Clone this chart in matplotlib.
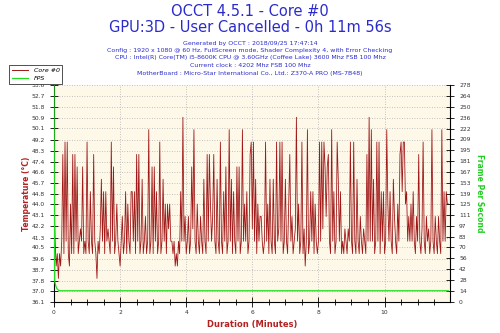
import matplotlib
matplotlib.use("Agg")
import matplotlib.pyplot as plt
from matplotlib.ticker import MultipleLocator, FixedLocator
from matplotlib.lines import Line2D
import numpy as np

# ---- data ----
sample_seconds = 2
core0_temp = [
    45, 41, 39, 40, 38, 40, 39, 41, 48, 40,
    49, 41, 49, 40, 39, 44, 40, 48, 40, 48,
    41, 47, 40, 41, 42, 41, 47, 40, 41, 40,
    49, 41, 40, 45, 41, 40, 48, 41, 40, 38,
    41, 40, 42, 46, 41, 45, 40, 45, 41, 42,
    41, 40, 49, 41, 47, 40, 41, 44, 41, 40,
    39, 41, 43, 40, 41, 45, 40, 44, 41, 40,
    45, 45, 41, 45, 40, 48, 41, 48, 40, 41,
    46, 40, 41, 43, 40, 41, 50, 40, 41, 47,
    40, 47, 41, 45, 40, 41, 49, 40, 41, 46,
    41, 44, 40, 44, 42, 44, 41, 41, 40, 41,
    39, 40, 39, 41, 40, 45, 41, 51, 41, 43,
    40, 41, 43, 40, 41, 47, 42, 50, 41, 40,
    44, 41, 40, 43, 41, 40, 46, 41, 40, 48,
    41, 48, 44, 41, 43, 48, 41, 40, 46, 41,
    40, 49, 41, 40, 45, 41, 47, 40, 41, 50,
    41, 46, 40, 45, 41, 40, 47, 41, 47, 40,
    41, 50, 41, 44, 41, 45, 40, 41, 48, 49,
    42, 49, 41, 46, 40, 44, 41, 43, 43, 41,
    40, 41, 49, 41, 44, 40, 46, 41, 40, 46,
    41, 40, 49, 41, 42, 49, 41, 49, 40, 41,
    46, 41, 40, 44, 48, 41, 43, 40, 41, 42,
    51, 41, 44, 40, 41, 49, 40, 42, 39, 41,
    50, 40, 41, 45, 41, 45, 40, 44, 41, 40,
    41, 49, 41, 49, 42, 49, 47, 43, 47, 48,
    41, 40, 50, 41, 45, 40, 41, 49, 46, 41,
    45, 40, 41, 40, 42, 41, 40, 42, 41, 49,
    41, 40, 49, 41, 40, 46, 41, 40, 43, 41,
    40, 42, 41, 40, 48, 41, 51, 41, 50, 41,
    46, 40, 41, 49, 41, 49, 40, 45, 41, 45,
    40, 41, 50, 44, 41, 45, 41, 40, 46, 43,
    41, 40, 44, 41, 48, 49, 45, 49, 49, 44,
    45, 41, 43, 41, 44, 41, 45, 41, 40, 43,
    41, 48, 41, 40, 42, 49, 41, 40, 43, 41,
    42, 40, 41, 50, 41, 40, 43, 41, 40, 43,
    41, 40, 50, 41, 45, 41, 45, 44, 44,
]
fps_minutes = [0.0, 0.02, 0.05, 0.09, 0.14, 0.2, 11.93]
fps_values = [278, 27, 21, 17, 15, 14.4, 14.4]

temp_ticks = [36.1, 37.0, 37.8, 38.7, 39.6, 40.5, 41.3, 42.2, 43.1, 44.0, 44.8,
              45.7, 46.6, 47.4, 48.3, 49.2, 50.1, 50.9, 51.8, 52.7, 53.6]
fps_ticks = [0, 14, 28, 42, 56, 70, 83, 97, 111, 125, 139, 153, 167, 181, 195,
             209, 222, 236, 250, 264, 278]
x_ticks = [0, 2, 4, 6, 8, 10]

title1 = "OCCT 4.5.1 - Core #0"
title2 = "GPU:3D - User Cancelled - 0h 11m 56s"
info_lines = [
    "Generated by OCCT : 2018/09/25 17:47:14",
    "Config : 1920 x 1080 @ 60 Hz, FullScreen mode, Shader Complexity 4, with Error Checking",
    "CPU : Intel(R) Core(TM) i5-8600K CPU @ 3.60GHz (Coffee Lake) 3600 Mhz FSB 100 Mhz",
    "Current clock : 4202 Mhz FSB 100 Mhz",
    "MotherBoard : Micro-Star International Co., Ltd.: Z370-A PRO (MS-7B48)",
]

# ---- figure ----
W, H = 500, 333
fig = plt.figure(figsize=(5, 3.33), dpi=100)
fig.patch.set_facecolor("white")
ax = fig.add_axes([54 / W, 1 - 302 / H, (450 - 54) / W, (302 - 85) / H])
ax.set_facecolor("#FEF8E9")

t_min = np.arange(len(core0_temp)) * sample_seconds / 60.0
ax.plot(t_min, core0_temp, color="#A01818", lw=0.6, zorder=3)
ax.set_xlim(0, 11.98)
ax.set_ylim(temp_ticks[0], temp_ticks[-1])
ax.yaxis.set_major_locator(FixedLocator(temp_ticks))
ax.set_yticklabels([f"{v:.1f}" for v in temp_ticks])
ax.xaxis.set_major_locator(FixedLocator(x_ticks))
ax.xaxis.set_minor_locator(MultipleLocator(0.5))
ax.grid(True, which="major", color="#B0B0B0", ls=(0, (1, 2)), lw=0.6)
ax.tick_params(axis="both", which="both", direction="inout", labelsize=4.3,
               labelcolor="#333333", width=0.6)
ax.tick_params(axis="y", length=6)
ax.tick_params(axis="x", which="major", length=7, pad=2)
ax.tick_params(axis="x", which="minor", length=4)
for s in ["top", "right"]:
    ax.spines[s].set_visible(False)
ax.spines["left"].set_linewidth(0.8)
ax.spines["bottom"].set_linewidth(0.8)

ax2 = ax.twinx()
ax2.plot(fps_minutes, fps_values, color="#22DD22", lw=0.9, zorder=4)
ax2.set_ylim(fps_ticks[0], fps_ticks[-1])
ax2.yaxis.set_major_locator(FixedLocator(fps_ticks))
ax2.tick_params(axis="y", direction="inout", length=6, labelsize=4.3,
                labelcolor="#333333", width=0.6)
for s in ["top", "left", "bottom"]:
    ax2.spines[s].set_visible(False)
ax2.spines["right"].set_linewidth(0.8)

ax.set_ylabel("Temperature (°C)", color="#B22222", fontsize=5.5, fontweight="bold")
ax.yaxis.set_label_coords(-0.058, 0.5)
ax2.set_ylabel("Frame Per Second", color="#22CC22", fontsize=5.5, fontweight="bold",
               rotation=-90, va="bottom")
ax2.yaxis.set_label_coords(1.062, 0.5)
ax.set_xlabel("Duration (Minutes)", color="#B22222", fontsize=6, fontweight="bold")
ax.xaxis.set_label_coords(0.5, -0.085)

blue = "#2B2BCC"
fig.text(0.5, 1 - 12 / H, title1, ha="center", va="center", fontsize=10.5, color=blue)
fig.text(0.5, 1 - 28 / H, title2, ha="center", va="center", fontsize=10.5, color=blue)
for k, line in enumerate(info_lines):
    fig.text(0.5, 1 - (43 + 7.5 * k) / H, line, ha="center", va="center",
             fontsize=4.5, color=blue)

handles = [Line2D([], [], color="#A01818", lw=0.7), Line2D([], [], color="#22DD22", lw=0.9)]
leg = fig.legend(handles, ["Core #0", "FPS"], loc="upper left",
                 bbox_to_anchor=(6 / W, 1 - 62 / H), frameon=True,
                 fancybox=False, edgecolor="#333333", framealpha=1,
                 handlelength=2.6, borderpad=0.4, labelspacing=0.5, handletextpad=0.9,
                 prop={"style": "italic", "size": 4.5})
leg.get_frame().set_linewidth(0.6)

fig.savefig("out.png", dpi=100)
